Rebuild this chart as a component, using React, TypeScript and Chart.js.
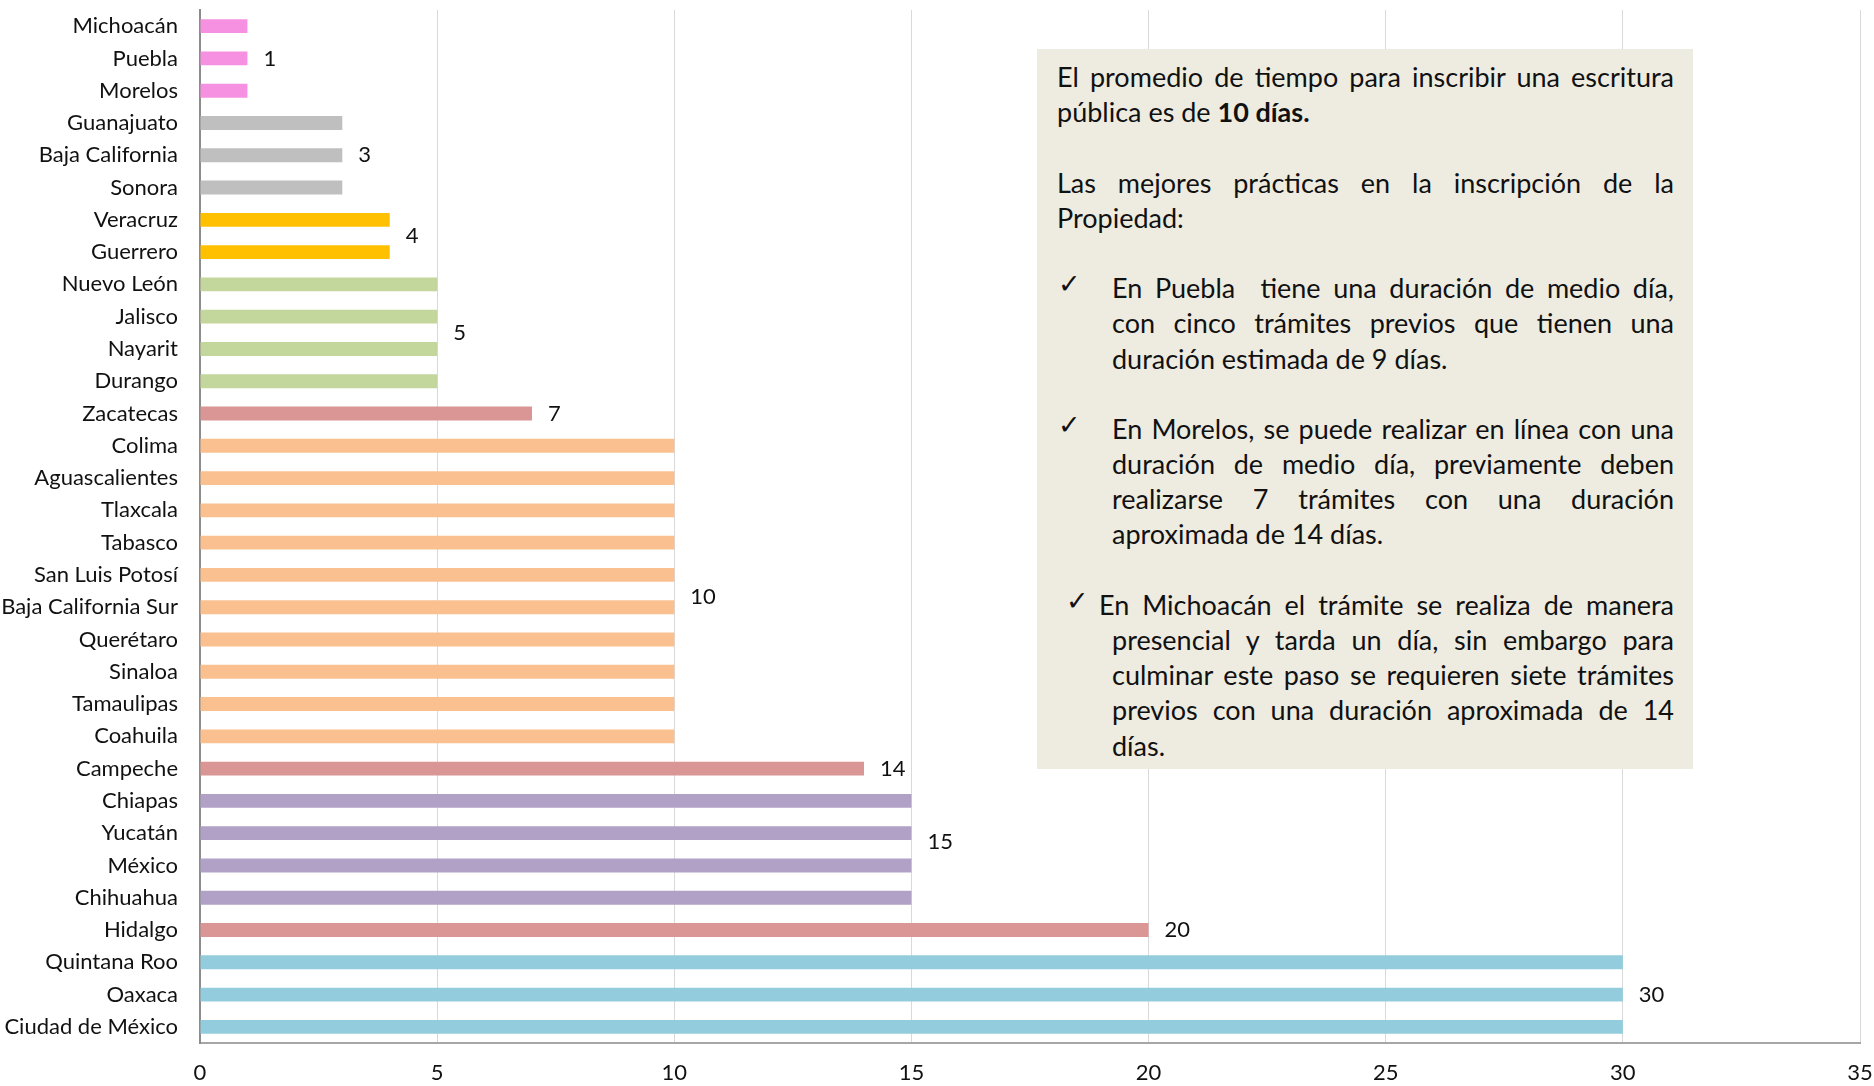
import React, { useEffect, useRef } from "react";
import { Chart, registerables } from "chart.js";

Chart.register(...registerables);

const categories = [
  "Michoacán", "Puebla", "Morelos", "Guanajuato", "Baja California", "Sonora",
  "Veracruz", "Guerrero", "Nuevo León", "Jalisco", "Nayarit", "Durango",
  "Zacatecas", "Colima", "Aguascalientes", "Tlaxcala", "Tabasco", "San Luis Potosí",
  "Baja California Sur", "Querétaro", "Sinaloa", "Tamaulipas", "Coahuila", "Campeche",
  "Chiapas", "Yucatán", "México", "Chihuahua", "Hidalgo", "Quintana Roo", "Oaxaca",
  "Ciudad de México",
];

const days = [
  1, 1, 1, 3, 3, 3, 4, 4, 5, 5, 5, 5, 7, 10, 10, 10, 10, 10, 10, 10, 10, 10, 10,
  14, 15, 15, 15, 15, 20, 30, 30, 30,
];

// group labels: value shown, and the (fractional) row index where it sits
const labelValues = [1, 3, 4, 5, 7, 10, 14, 15, 20, 30];
const labelRows = [1, 4, 6.5, 9.5, 12, 17.67, 23, 25.26, 28, 30];

const xMin = 0;
const xMax = 35;
const xStep = 5;

const colorByValue: Record<number, string> = {
  1: "#F690E0",
  3: "#BFBFBF",
  4: "#FFC000",
  5: "#C3D69B",
  7: "#D99694",
  10: "#FAC090",
  14: "#D99694",
  15: "#B2A1C7",
  20: "#D99694",
  30: "#93CDDD",
};

const FONT = "Lato, 'Open Sans', sans-serif";

const groupLabelPlugin = {
  id: "groupLabels",
  afterDatasetsDraw(chart: any) {
    const { ctx, scales } = chart;
    const xs = scales.x;
    const ys = scales.y;
    ctx.save();
    ctx.font = `22px ${FONT}`;
    ctx.fillStyle = "#111";
    ctx.textAlign = "left";
    ctx.textBaseline = "middle";
    labelValues.forEach((v, i) => {
      const x = xs.getPixelForValue(v) + 16;
      const y = ys.getPixelForValue(labelRows[i]);
      ctx.fillText(String(v), x, y);
    });
    ctx.restore();
  },
};

type Line = { t: React.ReactNode; j?: boolean };

const lineH = 35.2;

function TextLine({ t, j }: Line) {
  return (
    <div
      style={{
        height: lineH,
        lineHeight: `${lineH}px`,
        whiteSpace: "nowrap",
        textAlign: j ? "justify" : "left",
        textAlignLast: j ? "justify" : "left",
      } as any}
    >
      {t}
    </div>
  );
}

function Blank() {
  return <div style={{ height: lineH }} />;
}

function Bullet({ lines, checkLeft, firstIndent }: { lines: Line[]; checkLeft: number; firstIndent: number }) {
  return (
    <div style={{ position: "relative", paddingLeft: 55 }}>
      <span
        style={{
          position: "absolute",
          left: checkLeft,
          top: -4,
          lineHeight: `${lineH}px`,
          fontFamily: "'DejaVu Sans', sans-serif",
          fontSize: 27,
        }}
      >
        ✓
      </span>
      {lines.map((l, i) => (
        <div key={i} style={{ marginLeft: i === 0 ? firstIndent : 0 }}>
          <TextLine {...l} />
        </div>
      ))}
    </div>
  );
}

function InfoBox() {
  return (
    <div
      style={{
        position: "absolute",
        left: 1037,
        top: 49,
        width: 656,
        height: 720,
        background: "#EEECE1",
        boxSizing: "border-box",
        padding: "10px 19px 0 20px",
        fontFamily: FONT,
        fontSize: 27,
        color: "#111",
      }}
    >
      <TextLine t="El promedio de tiempo para inscribir una escritura" j />
      <TextLine t={<>pública es de <b>10 días.</b></>} />
      <Blank />
      <TextLine t="Las mejores prácticas en la inscripción de la" j />
      <TextLine t="Propiedad:" />
      <Blank />
      <Bullet
        checkLeft={1}
        firstIndent={0}
        lines={[
          { t: "En Puebla\u00a0 tiene una duración de medio día,", j: true },
          { t: "con cinco trámites previos que tienen una", j: true },
          { t: "duración estimada de 9 días." },
        ]}
      />
      <Blank />
      <Bullet
        checkLeft={1}
        firstIndent={0}
        lines={[
          { t: "En Morelos, se puede realizar en línea con una", j: true },
          { t: "duración de medio día, previamente deben", j: true },
          { t: "realizarse 7 trámites con una duración", j: true },
          { t: "aproximada de 14 días." },
        ]}
      />
      <Blank />
      <Bullet
        checkLeft={9}
        firstIndent={-13}
        lines={[
          { t: "En Michoacán el trámite se realiza de manera", j: true },
          { t: "presencial y tarda un día, sin embargo para", j: true },
          { t: "culminar este paso se requieren siete trámites", j: true },
          { t: "previos con una duración aproximada de 14", j: true },
          { t: "días." },
        ]}
      />
    </div>
  );
}

function zeroPad(s: any) {
  s.paddingTop = 0;
  s.paddingBottom = 0;
  s.paddingLeft = 0;
  s.paddingRight = 0;
}

export default function App() {
  const canvasRef = useRef<HTMLCanvasElement | null>(null);

  useEffect(() => {
    if (!canvasRef.current) return;
    const chart = new Chart(canvasRef.current, {
      type: "bar",
      data: {
        labels: categories,
        datasets: [
          {
            data: days,
            backgroundColor: days.map((v) => colorByValue[v] ?? "#999"),
            barPercentage: 0.43,
            categoryPercentage: 1,
            borderWidth: 0,
          },
        ],
      },
      options: {
        indexAxis: "y",
        animation: false,
        responsive: false,
        maintainAspectRatio: false,
        layout: { padding: { top: 10, right: 14, bottom: 0, left: 0 } },
        plugins: {
          legend: { display: false },
          tooltip: { enabled: false },
          title: { display: false },
        },
        scales: {
          x: {
            type: "linear",
            min: xMin,
            max: xMax,
            ticks: {
              stepSize: xStep,
              padding: 17,
              color: "#111",
              font: { family: FONT, size: 22 },
            },
            grid: { color: "#D9D9D9", lineWidth: 1, drawTicks: false },
            border: { color: "#A6A6A6", width: 2 },
            afterFit: (s: any) => {
              s.height = 43;
              zeroPad(s);
            },
          },
          y: {
            type: "category",
            ticks: {
              padding: 22,
              color: "#111",
              autoSkip: false,
              font: { family: FONT, size: 22 },
            },
            grid: { display: false, drawTicks: false },
            border: { color: "#8C8C8C", width: 2 },
            afterFit: (s: any) => {
              s.width = 200;
              zeroPad(s);
            },
          },
        },
      },
      plugins: [groupLabelPlugin],
    } as any);
    return () => chart.destroy();
  }, []);

  return (
    <div
      style={{
        position: "fixed",
        left: 0,
        top: 0,
        width: 1874,
        height: 1086,
        background: "#fff",
        overflow: "hidden",
      }}
    >
      <canvas ref={canvasRef} width={1874} height={1086} style={{ position: "absolute", left: 0, top: 0 }} />
      <InfoBox />
    </div>
  );
}
